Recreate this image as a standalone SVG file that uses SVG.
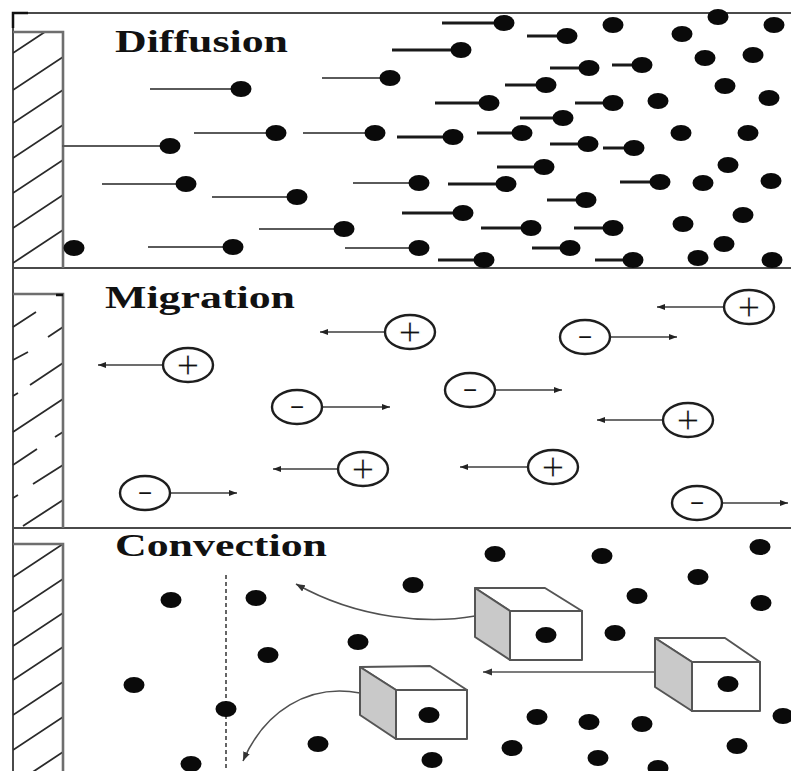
<svg xmlns="http://www.w3.org/2000/svg" xmlns:xlink="http://www.w3.org/1999/xlink" width="791" height="771" viewBox="0 0 791 771">
  <style>
    .frame { stroke: #4a4a4a; stroke-width: 2; fill: none; }
    .wall { stroke: #6e6e6e; stroke-width: 2.6; fill: none; }
    .hatch { stroke: #2a2a2a; stroke-width: 1.8; fill: none; }
    .title { font-family: "Liberation Serif", "Times New Roman", serif; font-weight: bold; font-size: 31px; fill: #111; }
    .tail { stroke: #5a5a5a; stroke-width: 2; }
    .tail2 { stroke: #1a1a1a; stroke-width: 2.8; }
    .ion { fill: #fff; stroke: #1e1e1e; stroke-width: 2.4; }
    .sign { font-family: "Liberation Sans", Arial, sans-serif; fill: #111; text-anchor: middle; }
    .plus { font-size: 40px; stroke: #fff; stroke-width: 1; }
    .minus { font-size: 24px; }
    .drift { stroke: #3c3c3c; stroke-width: 1.6; fill: none; marker-end: url(#ah); }
    .flow { stroke: #505050; stroke-width: 1.6; fill: none; marker-end: url(#ah2); }
    .cube { stroke: #555; stroke-width: 2; fill: #fff; stroke-linejoin: round; }
    .shade { fill: #c9c9c9; }
    .dot { fill: #0a0a0a; }
  </style>
  <defs>
    <ellipse id="d" class="dot" rx="10.5" ry="8"/>
    <marker id="ah" markerUnits="userSpaceOnUse" markerWidth="10" markerHeight="8" refX="8" refY="3" orient="auto">
      <path d="M0,0 L8,3 L0,6 z" fill="#222"/>
    </marker>
    <marker id="ah2" markerUnits="userSpaceOnUse" markerWidth="12" markerHeight="10" refX="9" refY="3.5" orient="auto">
      <path d="M0,0 L9,3.5 L0,7 z" fill="#333"/>
    </marker>
    <clipPath id="wallA"><rect x="13" y="32" width="50" height="236"/></clipPath>
    <clipPath id="wallC"><rect x="13" y="544" width="50" height="227"/></clipPath>
  </defs>

  <rect width="791" height="771" fill="#fff"/>

  <!-- outer frame and section dividers -->
  <g id="frame">
    <path class="frame" d="M13,13 H791 M13,13 V771 M13,268 H791 M13,528 H791"/>
    <path d="M13,28 V13 H28" stroke="#111" stroke-width="2.5" fill="none"/>
  </g>

  <!-- ===== Diffusion ===== -->
  <g id="diffusion">
    <g id="wall-diffusion">
      <g clip-path="url(#wallA)" class="hatch">
        <path d="M13,53 l50,-33 M13,90 l50,-33 M13,123 l50,-33 M13,158 l50,-33 M13,193 l50,-33 M13,228 l50,-33 M13,263 l50,-33"/>
      </g>
      <path class="wall" d="M13,32 H63 V268"/>
    </g>
    <text class="title" x="115" y="52" textLength="173" lengthAdjust="spacingAndGlyphs">Diffusion</text>

    <g id="tails">
      <path class="tail" d="M150,89 H241 M62,146 H170 M194,133 H276 M303,133 H375 M322,78 H390 M102,184 H186 M212,197 H297 M259,229 H344 M148,247 H233 M345,248 H419 M353,183 H419"/>
      <path class="tail2" d="M442,23 H504 M527,36 H567 M392,50 H461 M550,68 H589 M612,65 H642 M505,85 H546 M435,103 H489 M575,103 H613 M520,118 H563 M397,137 H453 M477,133 H522 M550,144 H588 M603,148 H634 M497,167 H544 M448,184 H506 M620,182 H660 M547,200 H586 M402,213 H463 M481,228 H531 M574,228 H613 M532,248 H570 M438,260 H484 M595,260 H633"/>
    </g>
    <g id="particles-diffusion">
      <use href="#d" x="241" y="89"/><use href="#d" x="170" y="146"/><use href="#d" x="276" y="133"/>
      <use href="#d" x="375" y="133"/><use href="#d" x="390" y="78"/><use href="#d" x="186" y="184"/>
      <use href="#d" x="297" y="197"/><use href="#d" x="344" y="229"/><use href="#d" x="74" y="248"/>
      <use href="#d" x="233" y="247"/><use href="#d" x="419" y="248"/><use href="#d" x="419" y="183"/>
      <use href="#d" x="504" y="23"/><use href="#d" x="567" y="36"/><use href="#d" x="613" y="25"/>
      <use href="#d" x="682" y="34"/><use href="#d" x="718" y="17"/><use href="#d" x="774" y="25"/>
      <use href="#d" x="461" y="50"/><use href="#d" x="705" y="58"/><use href="#d" x="753" y="55"/>
      <use href="#d" x="589" y="68"/><use href="#d" x="642" y="65"/><use href="#d" x="546" y="85"/>
      <use href="#d" x="725" y="86"/><use href="#d" x="489" y="103"/><use href="#d" x="613" y="103"/>
      <use href="#d" x="658" y="101"/><use href="#d" x="769" y="98"/><use href="#d" x="563" y="118"/>
      <use href="#d" x="453" y="137"/><use href="#d" x="522" y="133"/><use href="#d" x="588" y="144"/>
      <use href="#d" x="634" y="148"/><use href="#d" x="681" y="133"/><use href="#d" x="748" y="133"/>
      <use href="#d" x="544" y="167"/><use href="#d" x="728" y="165"/><use href="#d" x="506" y="184"/>
      <use href="#d" x="660" y="182"/><use href="#d" x="703" y="183"/><use href="#d" x="771" y="181"/>
      <use href="#d" x="586" y="200"/><use href="#d" x="463" y="213"/><use href="#d" x="743" y="215"/>
      <use href="#d" x="531" y="228"/><use href="#d" x="613" y="228"/><use href="#d" x="683" y="224"/>
      <use href="#d" x="724" y="244"/><use href="#d" x="570" y="248"/><use href="#d" x="484" y="260"/>
      <use href="#d" x="633" y="260"/><use href="#d" x="698" y="258"/><use href="#d" x="772" y="260"/>
    </g>
  </g>

  <!-- ===== Migration ===== -->
  <g id="migration">
    <g id="wall-migration">
      <path class="hatch" d="M13,327 L36,312 M13,360 L28,352 M48,337 L63,327 M13,396 L18,393 M30,385 L63,363 M13,432 L63,399 M13,465 L37,449 M55,437 L63,432 M13,498 L18,495 M33,484 L63,465 M23,526 L63,500"/>
      <path class="wall" d="M13,294 H63 V528"/>
      <path d="M56,295 H63" stroke="#111" stroke-width="2.5"/>
    </g>
    <text class="title" x="105" y="308" textLength="190" lengthAdjust="spacingAndGlyphs">Migration</text>

    <g id="drift-arrows">
      <path class="drift" d="M163,365 H98"/>
      <path class="drift" d="M322,407 H390"/>
      <path class="drift" d="M338,469 H273"/>
      <path class="drift" d="M170,493 H237"/>
      <path class="drift" d="M385,332 H320"/>
      <path class="drift" d="M610,337 H677"/>
      <path class="drift" d="M724,307 H657"/>
      <path class="drift" d="M495,390 H562"/>
      <path class="drift" d="M663,420 H597"/>
      <path class="drift" d="M528,467 H460"/>
      <path class="drift" d="M722,503 H788"/>
    </g>

    <g id="cation-1"><ellipse class="ion" cx="188" cy="365" rx="25" ry="17"/><text class="sign plus" x="188" y="379">+</text></g>
    <g id="anion-1"><ellipse class="ion" cx="297" cy="407" rx="25" ry="17"/><text class="sign minus" x="297" y="415">−</text></g>
    <g id="cation-2"><ellipse class="ion" cx="363" cy="469" rx="25" ry="17"/><text class="sign plus" x="363" y="483">+</text></g>
    <g id="anion-2"><ellipse class="ion" cx="145" cy="493" rx="25" ry="17"/><text class="sign minus" x="145" y="501">−</text></g>
    <g id="cation-3"><ellipse class="ion" cx="410" cy="332" rx="25" ry="17"/><text class="sign plus" x="410" y="346">+</text></g>
    <g id="anion-3"><ellipse class="ion" cx="585" cy="337" rx="25" ry="17"/><text class="sign minus" x="585" y="345">−</text></g>
    <g id="cation-4"><ellipse class="ion" cx="749" cy="307" rx="25" ry="17"/><text class="sign plus" x="749" y="321">+</text></g>
    <g id="anion-4"><ellipse class="ion" cx="470" cy="390" rx="25" ry="17"/><text class="sign minus" x="470" y="398">−</text></g>
    <g id="cation-5"><ellipse class="ion" cx="688" cy="420" rx="25" ry="17"/><text class="sign plus" x="688" y="434">+</text></g>
    <g id="cation-6"><ellipse class="ion" cx="553" cy="467" rx="25" ry="17"/><text class="sign plus" x="553" y="481">+</text></g>
    <g id="anion-5"><ellipse class="ion" cx="697" cy="503" rx="25" ry="17"/><text class="sign minus" x="697" y="511">−</text></g>
  </g>

  <!-- ===== Convection ===== -->
  <g id="convection">
    <g id="wall-convection">
      <g clip-path="url(#wallC)" class="hatch">
        <path d="M13,577 l50,-33 M13,612 l50,-33 M13,646 l50,-33 M13,680 l50,-33 M13,715 l50,-33 M13,750 l50,-33 M13,785 l50,-33"/>
      </g>
      <path class="wall" d="M13,544 H63 V771"/>
    </g>
    <text class="title" x="115" y="556" textLength="212" lengthAdjust="spacingAndGlyphs">Convection</text>

    <line x1="226" y1="575" x2="226" y2="771" stroke="#333" stroke-width="1.5" stroke-dasharray="4 3"/>

    <g id="particles-convection">
      <use href="#d" x="171" y="600"/><use href="#d" x="256" y="598"/><use href="#d" x="268" y="655"/>
      <use href="#d" x="358" y="642"/><use href="#d" x="134" y="685"/><use href="#d" x="226" y="709"/>
      <use href="#d" x="318" y="744"/><use href="#d" x="191" y="764"/><use href="#d" x="495" y="554"/>
      <use href="#d" x="602" y="556"/><use href="#d" x="760" y="547"/><use href="#d" x="413" y="585"/>
      <use href="#d" x="698" y="577"/><use href="#d" x="637" y="596"/><use href="#d" x="761" y="603"/>
      <use href="#d" x="615" y="633"/><use href="#d" x="783" y="716"/><use href="#d" x="537" y="717"/>
      <use href="#d" x="589" y="722"/><use href="#d" x="642" y="724"/><use href="#d" x="512" y="748"/>
      <use href="#d" x="737" y="746"/><use href="#d" x="432" y="760"/><use href="#d" x="598" y="758"/>
      <use href="#d" x="658" y="768"/>
    </g>

    <g id="flow-arrows">
      <path class="flow" d="M475,616 C430,624 360,620 296,584"/>
      <path class="flow" d="M655,672 H483"/>
      <path class="flow" d="M360,693 C308,683 264,712 243,761"/>
    </g>

    <g id="parcel-1">
      <polygon class="cube" points="475,588 545,588 582,611 510,611"/>
      <polygon class="cube shade" points="475,588 510,611 510,660 475,637"/>
      <rect class="cube" x="510" y="611" width="72" height="49"/>
      <use href="#d" x="546" y="635"/>
    </g>
    <g id="parcel-2">
      <polygon class="cube" points="655,638 725,638 760,662 692,662"/>
      <polygon class="cube shade" points="655,638 692,662 692,711 655,687"/>
      <rect class="cube" x="692" y="662" width="68" height="49"/>
      <use href="#d" x="728" y="684"/>
    </g>
    <g id="parcel-3">
      <polygon class="cube" points="360,667 430,666 467,690 396,690"/>
      <polygon class="cube shade" points="360,667 396,690 396,739 360,715"/>
      <rect class="cube" x="396" y="690" width="71" height="49"/>
      <use href="#d" x="429" y="715"/>
    </g>
  </g>
</svg>
